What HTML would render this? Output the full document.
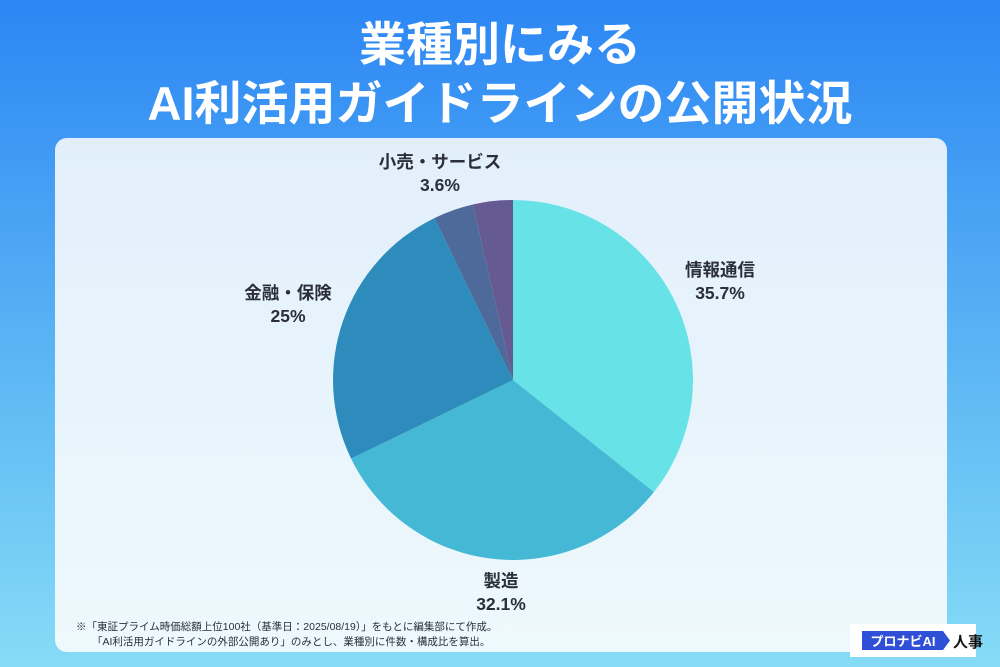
<!DOCTYPE html>
<html><head><meta charset="utf-8"><style>
html,body{margin:0;padding:0;width:1000px;height:667px;overflow:hidden}
svg{display:block}
text{font-family:"Liberation Sans","Noto Sans CJK JP",sans-serif}
</style></head><body>
<svg width="1000" height="667" viewBox="0 0 1000 667" xmlns="http://www.w3.org/2000/svg">
<defs>
<linearGradient id="bg" x1="0" y1="0" x2="0" y2="1">
<stop offset="0" stop-color="#2c86f4"/><stop offset="0.5" stop-color="#58b2f4"/><stop offset="1" stop-color="#86dcf6"/>
</linearGradient>
<linearGradient id="card" x1="0" y1="0" x2="0" y2="1">
<stop offset="0" stop-color="#e2effb"/><stop offset="1" stop-color="#eef9fd"/>
</linearGradient>
</defs>
<rect width="1000" height="667" fill="url(#bg)"/>
<text x="500" y="61" text-anchor="middle" font-size="47" font-weight="bold" fill="#fff">業種別にみる</text>
<text x="500" y="120" text-anchor="middle" font-size="47" font-weight="bold" fill="#fff">AI利活用ガイドラインの公開状況</text>
<rect x="55" y="138" width="892" height="514" rx="12" fill="url(#card)"/>
<g stroke="none">
<path d="M513 380 L513 200 A180 180 0 0 1 653.9 492.0 Z" fill="#67e3e7"/>
<path d="M513 380 L653.9 492.0 A180 180 0 0 1 351.1 458.6 Z" fill="#44b8d5"/>
<path d="M513 380 L351.1 458.6 A180 180 0 0 1 434.4 218.1 Z" fill="#2d8cbc"/>
<path d="M513 380 L434.4 218.1 A180 180 0 0 1 472.8 204.5 Z" fill="#4d6a9a"/>
<path d="M513 380 L472.8 204.5 A180 180 0 0 1 513 200 Z" fill="#665a92"/>
</g>
<g font-size="17.5" font-weight="bold" fill="#2a2f3a" text-anchor="middle">
<text x="440" y="168">小売・サービス</text><text x="440" y="191">3.6%</text>
<text x="720" y="276">情報通信</text><text x="720" y="299">35.7%</text>
<text x="288" y="299">金融・保険</text><text x="288" y="322">25%</text>
<text x="501" y="587">製造</text><text x="501" y="610">32.1%</text>
</g>
<g font-size="10.5" fill="#2a2f3a">
<text x="76" y="630">※「東証プライム時価総額上位100社（基準日：2025/08/19）」をもとに編集部にて作成。</text>
<text x="92" y="645">「AI利活用ガイドラインの外部公開あり」のみとし、業種別に件数・構成比を算出。</text>
</g>
<rect x="850" y="624" width="126" height="33" fill="#fff"/>
<path d="M862 631 H943 L950 640.5 L943 650 H862 Z" fill="#2f4fd6"/>
<text x="903" y="646" text-anchor="middle" font-size="13" font-weight="bold" fill="#fff">プロナビAI</text>
<text x="953" y="647" font-size="15" font-weight="bold" fill="#111">人事</text>
</svg>
</body></html>
